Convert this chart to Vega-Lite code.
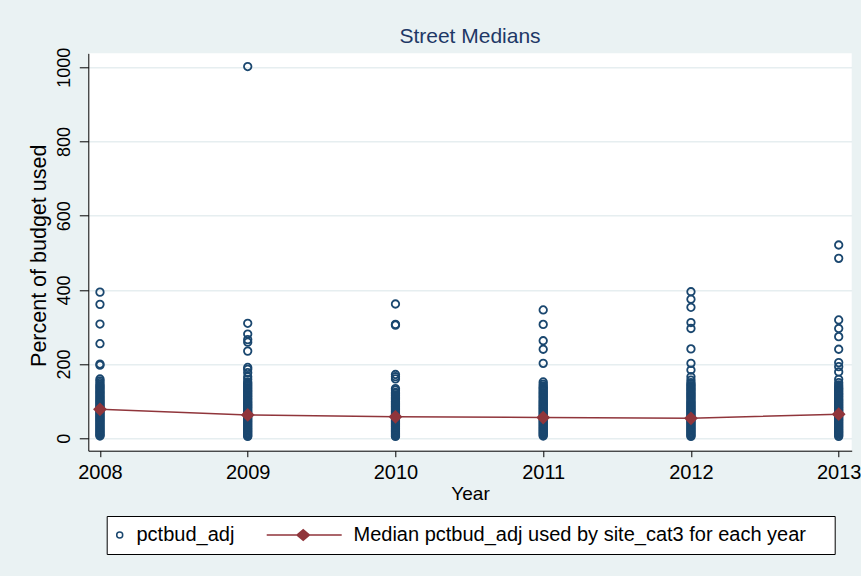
{
  "$schema": "https://vega.github.io/schema/vega-lite/v6.json",
  "autosize": {"type": "none"},
  "width": 763.4,
  "height": 397.4,
  "padding": {"left": 88.3, "top": 53.3, "right": 9.3, "bottom": 125.3},
  "background": "#EAF2F3",
  "title": {"text": "Street Medians", "anchor": "middle", "frame": "group", "fontSize": 21, "font": "Liberation Sans", "fontWeight": "normal", "color": "#1E3866", "baseline": "alphabetic", "offset": -16.9},
  "datasets": {
    "points": [
      {"Year": 2008, "pctbud_adj": 394}, {"Year": 2008, "pctbud_adj": 361}, {"Year": 2008, "pctbud_adj": 308}, {"Year": 2008, "pctbud_adj": 255}, {"Year": 2008, "pctbud_adj": 200}, {"Year": 2008, "pctbud_adj": 197}, {"Year": 2008, "pctbud_adj": 160}, {"Year": 2008, "pctbud_adj": 155}, {"Year": 2008, "pctbud_adj": 150},
      {"Year": 2008, "pctbud_adj": 145}, {"Year": 2008, "pctbud_adj": 141}, {"Year": 2008, "pctbud_adj": 138}, {"Year": 2008, "pctbud_adj": 134}, {"Year": 2008, "pctbud_adj": 131}, {"Year": 2008, "pctbud_adj": 127}, {"Year": 2008, "pctbud_adj": 124}, {"Year": 2008, "pctbud_adj": 120}, {"Year": 2008, "pctbud_adj": 117}, {"Year": 2008, "pctbud_adj": 113}, {"Year": 2008, "pctbud_adj": 110}, {"Year": 2008, "pctbud_adj": 106}, {"Year": 2008, "pctbud_adj": 103}, {"Year": 2008, "pctbud_adj": 100}, {"Year": 2008, "pctbud_adj": 97}, {"Year": 2008, "pctbud_adj": 94}, {"Year": 2008, "pctbud_adj": 91}, {"Year": 2008, "pctbud_adj": 88}, {"Year": 2008, "pctbud_adj": 85}, {"Year": 2008, "pctbud_adj": 82}, {"Year": 2008, "pctbud_adj": 80}, {"Year": 2008, "pctbud_adj": 77}, {"Year": 2008, "pctbud_adj": 74}, {"Year": 2008, "pctbud_adj": 71}, {"Year": 2008, "pctbud_adj": 68}, {"Year": 2008, "pctbud_adj": 65}, {"Year": 2008, "pctbud_adj": 62}, {"Year": 2008, "pctbud_adj": 59}, {"Year": 2008, "pctbud_adj": 56}, {"Year": 2008, "pctbud_adj": 53}, {"Year": 2008, "pctbud_adj": 50}, {"Year": 2008, "pctbud_adj": 47}, {"Year": 2008, "pctbud_adj": 44}, {"Year": 2008, "pctbud_adj": 41}, {"Year": 2008, "pctbud_adj": 38}, {"Year": 2008, "pctbud_adj": 35}, {"Year": 2008, "pctbud_adj": 32}, {"Year": 2008, "pctbud_adj": 29}, {"Year": 2008, "pctbud_adj": 26}, {"Year": 2008, "pctbud_adj": 23}, {"Year": 2008, "pctbud_adj": 20}, {"Year": 2008, "pctbud_adj": 17}, {"Year": 2008, "pctbud_adj": 14}, {"Year": 2008, "pctbud_adj": 11}, {"Year": 2008, "pctbud_adj": 8}, {"Year": 2008, "pctbud_adj": 6},
      {"Year": 2009, "pctbud_adj": 1002}, {"Year": 2009, "pctbud_adj": 310}, {"Year": 2009, "pctbud_adj": 281}, {"Year": 2009, "pctbud_adj": 266}, {"Year": 2009, "pctbud_adj": 259}, {"Year": 2009, "pctbud_adj": 235}, {"Year": 2009, "pctbud_adj": 191}, {"Year": 2009, "pctbud_adj": 186}, {"Year": 2009, "pctbud_adj": 177}, {"Year": 2009, "pctbud_adj": 166}, {"Year": 2009, "pctbud_adj": 159}, {"Year": 2009, "pctbud_adj": 152},
      {"Year": 2009, "pctbud_adj": 148}, {"Year": 2009, "pctbud_adj": 144}, {"Year": 2009, "pctbud_adj": 140}, {"Year": 2009, "pctbud_adj": 136}, {"Year": 2009, "pctbud_adj": 133}, {"Year": 2009, "pctbud_adj": 129}, {"Year": 2009, "pctbud_adj": 126}, {"Year": 2009, "pctbud_adj": 122}, {"Year": 2009, "pctbud_adj": 119}, {"Year": 2009, "pctbud_adj": 115}, {"Year": 2009, "pctbud_adj": 112}, {"Year": 2009, "pctbud_adj": 108}, {"Year": 2009, "pctbud_adj": 105}, {"Year": 2009, "pctbud_adj": 101}, {"Year": 2009, "pctbud_adj": 98}, {"Year": 2009, "pctbud_adj": 95}, {"Year": 2009, "pctbud_adj": 92}, {"Year": 2009, "pctbud_adj": 89}, {"Year": 2009, "pctbud_adj": 86}, {"Year": 2009, "pctbud_adj": 83}, {"Year": 2009, "pctbud_adj": 80}, {"Year": 2009, "pctbud_adj": 76}, {"Year": 2009, "pctbud_adj": 73}, {"Year": 2009, "pctbud_adj": 70}, {"Year": 2009, "pctbud_adj": 67}, {"Year": 2009, "pctbud_adj": 64}, {"Year": 2009, "pctbud_adj": 61}, {"Year": 2009, "pctbud_adj": 58}, {"Year": 2009, "pctbud_adj": 55}, {"Year": 2009, "pctbud_adj": 52}, {"Year": 2009, "pctbud_adj": 49}, {"Year": 2009, "pctbud_adj": 46}, {"Year": 2009, "pctbud_adj": 43}, {"Year": 2009, "pctbud_adj": 40}, {"Year": 2009, "pctbud_adj": 37}, {"Year": 2009, "pctbud_adj": 34}, {"Year": 2009, "pctbud_adj": 31}, {"Year": 2009, "pctbud_adj": 28}, {"Year": 2009, "pctbud_adj": 25}, {"Year": 2009, "pctbud_adj": 22}, {"Year": 2009, "pctbud_adj": 19}, {"Year": 2009, "pctbud_adj": 16}, {"Year": 2009, "pctbud_adj": 13}, {"Year": 2009, "pctbud_adj": 10}, {"Year": 2009, "pctbud_adj": 7}, {"Year": 2009, "pctbud_adj": 5},
      {"Year": 2010, "pctbud_adj": 362}, {"Year": 2010, "pctbud_adj": 307}, {"Year": 2010, "pctbud_adj": 305}, {"Year": 2010, "pctbud_adj": 172}, {"Year": 2010, "pctbud_adj": 166}, {"Year": 2010, "pctbud_adj": 160}, {"Year": 2010, "pctbud_adj": 134}, {"Year": 2010, "pctbud_adj": 130},
      {"Year": 2010, "pctbud_adj": 124}, {"Year": 2010, "pctbud_adj": 121}, {"Year": 2010, "pctbud_adj": 117}, {"Year": 2010, "pctbud_adj": 114}, {"Year": 2010, "pctbud_adj": 110}, {"Year": 2010, "pctbud_adj": 107}, {"Year": 2010, "pctbud_adj": 104}, {"Year": 2010, "pctbud_adj": 100}, {"Year": 2010, "pctbud_adj": 97}, {"Year": 2010, "pctbud_adj": 94}, {"Year": 2010, "pctbud_adj": 91}, {"Year": 2010, "pctbud_adj": 88}, {"Year": 2010, "pctbud_adj": 85}, {"Year": 2010, "pctbud_adj": 82}, {"Year": 2010, "pctbud_adj": 79}, {"Year": 2010, "pctbud_adj": 76}, {"Year": 2010, "pctbud_adj": 73}, {"Year": 2010, "pctbud_adj": 70}, {"Year": 2010, "pctbud_adj": 67}, {"Year": 2010, "pctbud_adj": 64}, {"Year": 2010, "pctbud_adj": 61}, {"Year": 2010, "pctbud_adj": 58}, {"Year": 2010, "pctbud_adj": 55}, {"Year": 2010, "pctbud_adj": 52}, {"Year": 2010, "pctbud_adj": 49}, {"Year": 2010, "pctbud_adj": 46}, {"Year": 2010, "pctbud_adj": 43}, {"Year": 2010, "pctbud_adj": 40}, {"Year": 2010, "pctbud_adj": 37}, {"Year": 2010, "pctbud_adj": 34}, {"Year": 2010, "pctbud_adj": 31}, {"Year": 2010, "pctbud_adj": 28}, {"Year": 2010, "pctbud_adj": 25}, {"Year": 2010, "pctbud_adj": 22}, {"Year": 2010, "pctbud_adj": 19}, {"Year": 2010, "pctbud_adj": 16}, {"Year": 2010, "pctbud_adj": 13}, {"Year": 2010, "pctbud_adj": 10}, {"Year": 2010, "pctbud_adj": 7}, {"Year": 2010, "pctbud_adj": 5},
      {"Year": 2011, "pctbud_adj": 346}, {"Year": 2011, "pctbud_adj": 307}, {"Year": 2011, "pctbud_adj": 263}, {"Year": 2011, "pctbud_adj": 240}, {"Year": 2011, "pctbud_adj": 202}, {"Year": 2011, "pctbud_adj": 152}, {"Year": 2011, "pctbud_adj": 146},
      {"Year": 2011, "pctbud_adj": 141}, {"Year": 2011, "pctbud_adj": 137}, {"Year": 2011, "pctbud_adj": 134}, {"Year": 2011, "pctbud_adj": 130}, {"Year": 2011, "pctbud_adj": 127}, {"Year": 2011, "pctbud_adj": 123}, {"Year": 2011, "pctbud_adj": 120}, {"Year": 2011, "pctbud_adj": 116}, {"Year": 2011, "pctbud_adj": 113}, {"Year": 2011, "pctbud_adj": 109}, {"Year": 2011, "pctbud_adj": 106}, {"Year": 2011, "pctbud_adj": 102}, {"Year": 2011, "pctbud_adj": 99}, {"Year": 2011, "pctbud_adj": 96}, {"Year": 2011, "pctbud_adj": 93}, {"Year": 2011, "pctbud_adj": 90}, {"Year": 2011, "pctbud_adj": 87}, {"Year": 2011, "pctbud_adj": 84}, {"Year": 2011, "pctbud_adj": 81}, {"Year": 2011, "pctbud_adj": 78}, {"Year": 2011, "pctbud_adj": 75}, {"Year": 2011, "pctbud_adj": 72}, {"Year": 2011, "pctbud_adj": 69}, {"Year": 2011, "pctbud_adj": 66}, {"Year": 2011, "pctbud_adj": 63}, {"Year": 2011, "pctbud_adj": 60}, {"Year": 2011, "pctbud_adj": 57}, {"Year": 2011, "pctbud_adj": 54}, {"Year": 2011, "pctbud_adj": 51}, {"Year": 2011, "pctbud_adj": 48}, {"Year": 2011, "pctbud_adj": 45}, {"Year": 2011, "pctbud_adj": 42}, {"Year": 2011, "pctbud_adj": 39}, {"Year": 2011, "pctbud_adj": 36}, {"Year": 2011, "pctbud_adj": 33}, {"Year": 2011, "pctbud_adj": 30}, {"Year": 2011, "pctbud_adj": 27}, {"Year": 2011, "pctbud_adj": 24}, {"Year": 2011, "pctbud_adj": 21}, {"Year": 2011, "pctbud_adj": 18}, {"Year": 2011, "pctbud_adj": 15}, {"Year": 2011, "pctbud_adj": 12}, {"Year": 2011, "pctbud_adj": 9}, {"Year": 2011, "pctbud_adj": 6},
      {"Year": 2012, "pctbud_adj": 395}, {"Year": 2012, "pctbud_adj": 375}, {"Year": 2012, "pctbud_adj": 353}, {"Year": 2012, "pctbud_adj": 312}, {"Year": 2012, "pctbud_adj": 296}, {"Year": 2012, "pctbud_adj": 241}, {"Year": 2012, "pctbud_adj": 202}, {"Year": 2012, "pctbud_adj": 184}, {"Year": 2012, "pctbud_adj": 166}, {"Year": 2012, "pctbud_adj": 157}, {"Year": 2012, "pctbud_adj": 150},
      {"Year": 2012, "pctbud_adj": 146}, {"Year": 2012, "pctbud_adj": 142}, {"Year": 2012, "pctbud_adj": 139}, {"Year": 2012, "pctbud_adj": 135}, {"Year": 2012, "pctbud_adj": 132}, {"Year": 2012, "pctbud_adj": 128}, {"Year": 2012, "pctbud_adj": 125}, {"Year": 2012, "pctbud_adj": 121}, {"Year": 2012, "pctbud_adj": 118}, {"Year": 2012, "pctbud_adj": 114}, {"Year": 2012, "pctbud_adj": 111}, {"Year": 2012, "pctbud_adj": 107}, {"Year": 2012, "pctbud_adj": 104}, {"Year": 2012, "pctbud_adj": 100}, {"Year": 2012, "pctbud_adj": 97}, {"Year": 2012, "pctbud_adj": 94}, {"Year": 2012, "pctbud_adj": 91}, {"Year": 2012, "pctbud_adj": 88}, {"Year": 2012, "pctbud_adj": 85}, {"Year": 2012, "pctbud_adj": 82}, {"Year": 2012, "pctbud_adj": 79}, {"Year": 2012, "pctbud_adj": 76}, {"Year": 2012, "pctbud_adj": 73}, {"Year": 2012, "pctbud_adj": 70}, {"Year": 2012, "pctbud_adj": 67}, {"Year": 2012, "pctbud_adj": 64}, {"Year": 2012, "pctbud_adj": 61}, {"Year": 2012, "pctbud_adj": 58}, {"Year": 2012, "pctbud_adj": 55}, {"Year": 2012, "pctbud_adj": 52}, {"Year": 2012, "pctbud_adj": 49}, {"Year": 2012, "pctbud_adj": 46}, {"Year": 2012, "pctbud_adj": 43}, {"Year": 2012, "pctbud_adj": 40}, {"Year": 2012, "pctbud_adj": 37}, {"Year": 2012, "pctbud_adj": 34}, {"Year": 2012, "pctbud_adj": 31}, {"Year": 2012, "pctbud_adj": 28}, {"Year": 2012, "pctbud_adj": 25}, {"Year": 2012, "pctbud_adj": 22}, {"Year": 2012, "pctbud_adj": 19}, {"Year": 2012, "pctbud_adj": 16}, {"Year": 2012, "pctbud_adj": 13}, {"Year": 2012, "pctbud_adj": 10}, {"Year": 2012, "pctbud_adj": 7}, {"Year": 2012, "pctbud_adj": 5},
      {"Year": 2013, "pctbud_adj": 521}, {"Year": 2013, "pctbud_adj": 485}, {"Year": 2013, "pctbud_adj": 319}, {"Year": 2013, "pctbud_adj": 296}, {"Year": 2013, "pctbud_adj": 274}, {"Year": 2013, "pctbud_adj": 240}, {"Year": 2013, "pctbud_adj": 204}, {"Year": 2013, "pctbud_adj": 193}, {"Year": 2013, "pctbud_adj": 179}, {"Year": 2013, "pctbud_adj": 159}, {"Year": 2013, "pctbud_adj": 150}, {"Year": 2013, "pctbud_adj": 144},
      {"Year": 2013, "pctbud_adj": 139}, {"Year": 2013, "pctbud_adj": 135}, {"Year": 2013, "pctbud_adj": 132}, {"Year": 2013, "pctbud_adj": 128}, {"Year": 2013, "pctbud_adj": 125}, {"Year": 2013, "pctbud_adj": 121}, {"Year": 2013, "pctbud_adj": 118}, {"Year": 2013, "pctbud_adj": 114}, {"Year": 2013, "pctbud_adj": 111}, {"Year": 2013, "pctbud_adj": 107}, {"Year": 2013, "pctbud_adj": 104}, {"Year": 2013, "pctbud_adj": 101}, {"Year": 2013, "pctbud_adj": 98}, {"Year": 2013, "pctbud_adj": 95}, {"Year": 2013, "pctbud_adj": 92}, {"Year": 2013, "pctbud_adj": 89}, {"Year": 2013, "pctbud_adj": 86}, {"Year": 2013, "pctbud_adj": 83}, {"Year": 2013, "pctbud_adj": 80}, {"Year": 2013, "pctbud_adj": 77}, {"Year": 2013, "pctbud_adj": 74}, {"Year": 2013, "pctbud_adj": 71}, {"Year": 2013, "pctbud_adj": 68}, {"Year": 2013, "pctbud_adj": 65}, {"Year": 2013, "pctbud_adj": 62}, {"Year": 2013, "pctbud_adj": 59}, {"Year": 2013, "pctbud_adj": 56}, {"Year": 2013, "pctbud_adj": 53}, {"Year": 2013, "pctbud_adj": 50}, {"Year": 2013, "pctbud_adj": 47}, {"Year": 2013, "pctbud_adj": 44}, {"Year": 2013, "pctbud_adj": 41}, {"Year": 2013, "pctbud_adj": 38}, {"Year": 2013, "pctbud_adj": 35}, {"Year": 2013, "pctbud_adj": 32}, {"Year": 2013, "pctbud_adj": 29}, {"Year": 2013, "pctbud_adj": 26}, {"Year": 2013, "pctbud_adj": 23}, {"Year": 2013, "pctbud_adj": 20}, {"Year": 2013, "pctbud_adj": 17}, {"Year": 2013, "pctbud_adj": 14}, {"Year": 2013, "pctbud_adj": 11}, {"Year": 2013, "pctbud_adj": 8}, {"Year": 2013, "pctbud_adj": 5}
    ],
    "medians": [
      {"Year": 2008, "median": 78},
      {"Year": 2009, "median": 63},
      {"Year": 2010, "median": 58},
      {"Year": 2011, "median": 56},
      {"Year": 2012, "median": 54},
      {"Year": 2013, "median": 65}
    ]
  },
  "encoding": {
    "x": {
      "field": "Year", "type": "quantitative",
      "scale": {"domain": [2007.921, 2013.088], "nice": false, "zero": false},
      "axis": {"title": "Year", "values": [2008, 2009, 2010, 2011, 2012, 2013], "format": "d", "grid": false,
        "domainColor": "black", "domainWidth": 1, "tickColor": "black", "tickSize": 6, "tickWidth": 1,
        "labelFont": "Liberation Sans", "labelFontSize": 20, "labelColor": "black", "labelPadding": 5.8, "labelBaseline": "top", "labelFlush": false,
        "titleFont": "Liberation Sans", "titleFontSize": 19, "titleFontWeight": "normal", "titleColor": "black", "titleBaseline": "alphabetic", "titleY": 49.3}
    }
  },
  "layer": [
    {
      "data": {"name": "points"},
      "mark": {"type": "point", "filled": false, "size": 56, "strokeWidth": 1.8, "opacity": 1},
      "encoding": {
        "y": {
          "field": "pctbud_adj", "type": "quantitative",
          "scale": {"domain": [-33.4, 1037.7], "nice": false, "zero": false},
          "axis": {"title": "Percent of budget used", "values": [0, 200, 400, 600, 800, 1000], "format": "d",
            "grid": true, "gridColor": "#E6EEF0", "gridWidth": 1.6,
            "domainColor": "black", "domainWidth": 1, "tickColor": "black", "tickSize": 9, "tickWidth": 1,
            "labelFont": "Liberation Sans", "labelFontSize": 18, "labelColor": "black", "labelAngle": -90, "labelAlign": "center", "labelBaseline": "alphabetic", "labelPadding": 10.3, "labelFlush": false,
            "titleFont": "Liberation Sans", "titleFontSize": 21.5, "titleFontWeight": "normal", "titleColor": "black", "titleAngle": -90, "titleBaseline": "alphabetic", "titleAlign": "center", "titleX": -42.6, "titleY": 202}
        },
        "color": {
          "datum": "pctbud_adj",
          "scale": {"domain": ["pctbud_adj", "Median pctbud_adj used by site_cat3 for each year"], "range": ["#1A476F", "#90353B"]},
          "legend": {
            "title": null, "orient": "none", "legendX": 18.4, "legendY": 462.7, "direction": "horizontal",
            "fillColor": "white", "strokeColor": "black", "padding": 9,
            "labelFont": "Liberation Sans", "labelFontSize": 20, "labelColor": "black", "labelLimit": 0, "labelOffset": 6.8,
            "symbolSize": 36, "symbolStrokeWidth": 1.5, "symbolOffset": -6, "columnPadding": 29,
            "labelExpr": "datum.value === 'pctbud_adj' ? datum.label : datum.label + '\\u00a0\\u00a0\\u00a0'"
          }
        },
        "shape": {
          "datum": "pctbud_adj",
          "scale": {"domain": ["pctbud_adj", "Median pctbud_adj used by site_cat3 for each year"], "range": ["circle", "M -23.33 0 L 1.67 0 M -13.25 0 L -11.17 -1.75 L -9.09 0 L -11.17 1.75 Z M -12.83 0 L -11.17 -1.4 L -9.51 0 L -11.17 1.4 Z M -12.42 0 L -11.17 -1.05 L -9.92 0 L -11.17 1.05 Z M -12 0 L -11.17 -0.7 L -10.34 0 L -11.17 0.7 Z M -11.59 0 L -11.17 -0.35 L -10.75 0 L -11.17 0.35 Z M 162 0"]},
          "legend": {
            "title": null, "orient": "none", "legendX": 18.4, "legendY": 462.7, "direction": "horizontal",
            "fillColor": "white", "strokeColor": "black", "padding": 9,
            "labelFont": "Liberation Sans", "labelFontSize": 20, "labelColor": "black", "labelLimit": 0, "labelOffset": 6.8,
            "symbolSize": 36, "symbolStrokeWidth": 1.5, "symbolOffset": -6, "columnPadding": 29,
            "labelExpr": "datum.value === 'pctbud_adj' ? datum.label : datum.label + '\\u00a0\\u00a0\\u00a0'"
          }
        }
      }
    },
    {
      "data": {"name": "medians"},
      "mark": {"type": "line", "color": "#90353B", "strokeWidth": 1.5},
      "encoding": {"y": {"field": "median", "type": "quantitative"}}
    },
    {
      "data": {"name": "medians"},
      "mark": {"type": "point", "shape": "diamond", "filled": true, "size": 190, "color": "#90353B", "opacity": 1},
      "encoding": {"y": {"field": "median", "type": "quantitative"}}
    }
  ],
  "config": {
    "font": "Liberation Sans",
    "view": {"fill": "white", "stroke": null}
  }
}
